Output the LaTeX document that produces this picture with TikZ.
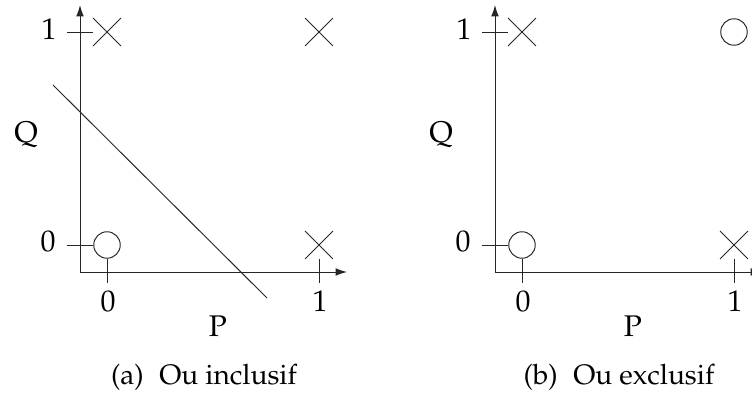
\documentclass[tikz,border=0pt]{standalone}
\usepackage[T1]{fontenc}
\usepackage{mathpazo}
\usetikzlibrary{arrows.meta, shapes.misc}

\begin{document}
\begin{tikzpicture}[
    x=0.02cm, y=-0.02cm,
    thin line/.style={line width=0.55pt, black!85},
    axis/.style={thin line, -{Latex[length=6.5pt,width=4.4pt]}},
    ptcirc/.style={thin line, draw, circle, inner sep=0pt, minimum size=0.53cm},
    ptcross/.style={thin line, draw, cross out, inner sep=0pt, minimum size=0.54cm},
    lbl/.style={font=\fontsize{17}{20}\selectfont, inner sep=0pt},
    caplbl/.style={font=\fontsize{16}{19}\selectfont, inner sep=0pt},
]
\useasboundingbox (0,0) rectangle (752,399);
%% -- Common parts of both panels --
\foreach \p/\dx/\cap in {a/0/Ou inclusif, b/415/Ou exclusif}{
  \begin{scope}[xshift=\dx*0.02cm]
    % axes
    \coordinate (\p o) at (80,272);
    \coordinate (\p ytip) at (80,5);
    \coordinate (\p xtip) at (347,272);
    \draw[axis] (\p o) -- (\p ytip);
    \draw[axis] (\p o) -- (\p xtip);
    % points
    \node[ptcirc]  (\p00) at (107,245) {};
    \node[ptcross] (\p01) at (107,32) {};
    \node[ptcross] (\p10) at (319,245) {};
    % ticks
    \coordinate (\p ty0) at (67,245);
    \coordinate (\p ty1) at (67,32);
    \coordinate (\p tx0) at (107,283);
    \coordinate (\p tx1) at (319,283);
    \draw[thin line] (\p ty0) -- (\p00.west);
    \draw[thin line] (\p ty1) -- (\p01.west);
    \draw[thin line] (\p00.south) -- (\p tx0);
    \draw[thin line] (\p10.south) -- (\p tx1);
    % labels
    \node[lbl] (\p ly0) at (48,241) {0};
    \node[lbl] (\p ly1) at (49,29) {1};
    \node[lbl] (\p lx0) at (108,301) {0};
    \node[lbl] (\p lx1) at (320,301) {1};
    \node[lbl] (\p Q) at (26,135) {Q};
    \node[lbl] (\p P) at (218,326) {P};
    \node[caplbl] (\p cap) at (204,377) {(\p)\hspace{0.55em}\cap};
  \end{scope}
}
%% -- Point (1,1) --
\node[ptcross] (a11) at (319,32) {};
\node[ptcirc]  (b11) at (734,32) {};
%% -- Separating line (a) --
\coordinate (ls) at (53,85);
\coordinate (le) at (267,298);
\draw[thin line] (ls) -- (le);
\end{tikzpicture}
\end{document}
